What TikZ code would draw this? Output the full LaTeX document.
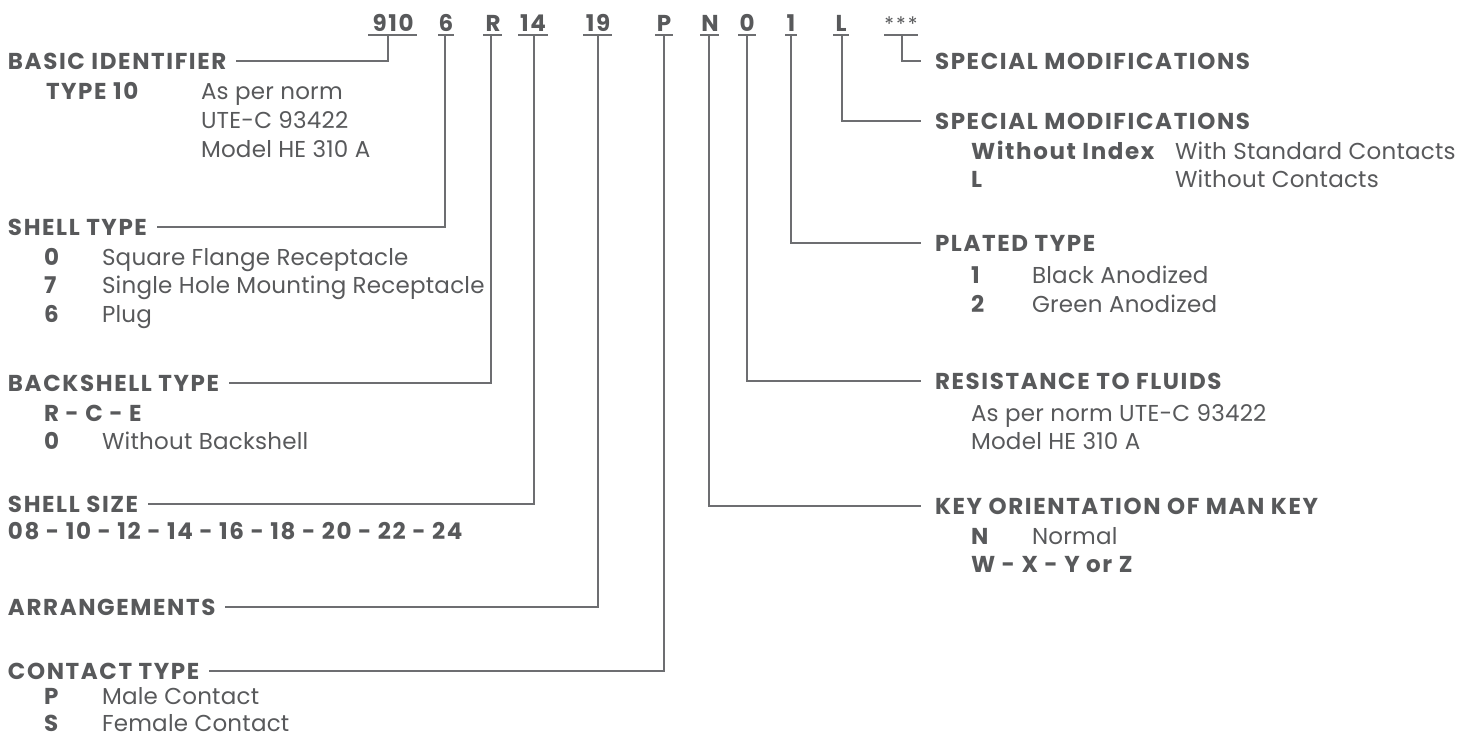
\documentclass[tikz,border=0pt]{standalone}
\usepackage{fontspec}
\setmainfont{Poppins}[LetterSpace=1,BoldFeatures={LetterSpace=7}]
\usetikzlibrary{calc}
\definecolor{tc}{HTML}{58595B}
\definecolor{lc}{HTML}{6D6E71}
\tikzset{
  base/.style={inner sep=0pt, outer sep=0pt, text=tc},
  ttl/.style={base, anchor=west, font=\fontsize{23}{26}\selectfont\bfseries},
  key/.style={base, anchor=base west, font=\fontsize{23}{26}\selectfont\bfseries},
  val/.style={base, anchor=base west, font=\fontsize{23}{26}\selectfont},
  code/.style={base, anchor=base, font=\fontsize{23}{26}\selectfont\bfseries},
  ln/.style={draw=lc, line width=1.3pt},
}
\begin{document}
\begin{tikzpicture}[x=1pt,y=-1pt]
\useasboundingbox (0,0) rectangle (1463,740);
% ---- code row ----
\node[code] (c910) at (393,31) {910};
\node[code] (c6) at (446,31) {6};
\node[code] (cR) at (493,31) {R};
\node[code] (c14) at (533,31) {14};
\node[code] (c19) at (598,31) {19};
\node[code] (cP) at (664,31) {P};
\node[code] (cN) at (710,31) {N};
\node[code] (c0) at (747,31) {0};
\node[code] (c1) at (791,31) {1};
\node[code] (cL) at (841,31) {L};
\node[base, anchor=base, font=\fontsize{20}{22}\selectfont] (cS) at (901,31) {*\kern2pt*\kern2pt*};
% underlines
\draw[ln] (368,35) -- (417,35);
\draw[ln] (438,35) -- (454,35);
\draw[ln] (483,35) -- (502,35);
\draw[ln] (518,35) -- (548,35);
\draw[ln] (583,35) -- (612,35);
\draw[ln] (655,35) -- (673,35);
\draw[ln] (700,35) -- (719,35);
\draw[ln] (738,35) -- (756,35);
\draw[ln] (785,35) -- (797,35);
\draw[ln] (833,35) -- (849,35);
\draw[ln] (884,35) -- (918,35);
\coordinate (u910) at (388,35);
\coordinate (u6) at (445,35);
\coordinate (uR) at (491,35);
\coordinate (u14) at (534,35);
\coordinate (u19) at (598,35);
\coordinate (uP) at (664,35);
\coordinate (uN) at (709,35);
\coordinate (u0) at (747,35);
\coordinate (u1) at (791,35);
\coordinate (uL) at (842,35);
\coordinate (uS) at (902,35);
% ---- left side ----
\node[ttl] (basic) at (8,61) {BASIC IDENTIFIER};
\node[key] (t10) at (46,99) {TYPE 10};
\node[val] (t10a) at (201,99) {As per norm};
\node[val] (t10b) at (201,128) {UTE-C 93422};
\node[val] (t10c) at (201,157) {Model HE 310 A};

\node[ttl] (shell) at (8,227) {SHELL TYPE};
\node[key] (s0k) at (44,265) {0};
\node[val] (s0v) at (102,265) {Square Flange Receptacle};
\node[key] (s7k) at (44,293.5) {7};
\node[val] (s7v) at (102,293.5) {Single Hole Mounting Receptacle};
\node[key] (s6k) at (44,322) {6};
\node[val] (s6v) at (102,322) {Plug};

\node[ttl] (back) at (8,383) {BACKSHELL TYPE};
\node[key] (brce) at (44,421) {R - C - E};
\node[key] (b0k) at (44,449.5) {0};
\node[val] (b0v) at (102,449.5) {Without Backshell};

\node[ttl] (size) at (8,504) {SHELL SIZE};
\node[key] (sizes) at (8,539) {08 - 10 - 12 - 14 - 16 - 18 - 20 - 22 - 24};

\node[ttl] (arr) at (8,607) {ARRANGEMENTS};

\node[ttl] (cont) at (8,671) {CONTACT TYPE};
\node[key] (cPk) at (44,704) {P};
\node[val] (cPv) at (102,704) {Male Contact};
\node[key] (cSk) at (44,731) {S};
\node[val] (cSv) at (102,731) {Female Contact};

% ---- right side ----
\node[ttl] (spec1) at (935,61) {SPECIAL MODIFICATIONS};
\node[ttl] (spec2) at (935,121) {SPECIAL MODIFICATIONS};
\node[key] (wik) at (971,159) {Without Index};
\node[val] (wiv) at (1175,159) {With Standard Contacts};
\node[key] (lk) at (971,187.5) {L};
\node[val] (lv) at (1175,187.5) {Without Contacts};

\node[ttl] (plated) at (935,243) {PLATED TYPE};
\node[key] (p1k) at (971,283) {1};
\node[val] (p1v) at (1032,283) {Black Anodized};
\node[key] (p2k) at (971,312) {2};
\node[val] (p2v) at (1032,312) {Green Anodized};

\node[ttl] (resist) at (935,381) {RESISTANCE TO FLUIDS};
\node[val] (r1) at (971,421) {As per norm UTE-C 93422};
\node[val] (r2) at (971,449) {Model HE 310 A};

\node[ttl] (keyo) at (935,506) {KEY ORIENTATION OF MAN KEY};
\node[key] (nk) at (971,544) {N};
\node[val] (nv) at (1032,544) {Normal};
\node[key] (wk) at (971,572.5) {W - X - Y or Z};

% ---- connectors ----
\draw[ln] (u910) |- ($(basic.east)+(10,0)$);
\draw[ln] (u6) |- ($(shell.east)+(10,0)$);
\draw[ln] (uR) |- ($(back.east)+(10,0)$);
\draw[ln] (u14) |- ($(size.east)+(10,0)$);
\draw[ln] (u19) |- ($(arr.east)+(10,0)$);
\draw[ln] (uP) |- ($(cont.east)+(10,0)$);
\draw[ln] (uN) |- ($(keyo.west)+(-14,0)$);
\draw[ln] (u0) |- ($(resist.west)+(-14,0)$);
\draw[ln] (u1) |- ($(plated.west)+(-14,0)$);
\draw[ln] (uL) |- ($(spec2.west)+(-14,0)$);
\draw[ln] (uS) |- ($(spec1.west)+(-14,0)$);
\end{tikzpicture}
\end{document}
